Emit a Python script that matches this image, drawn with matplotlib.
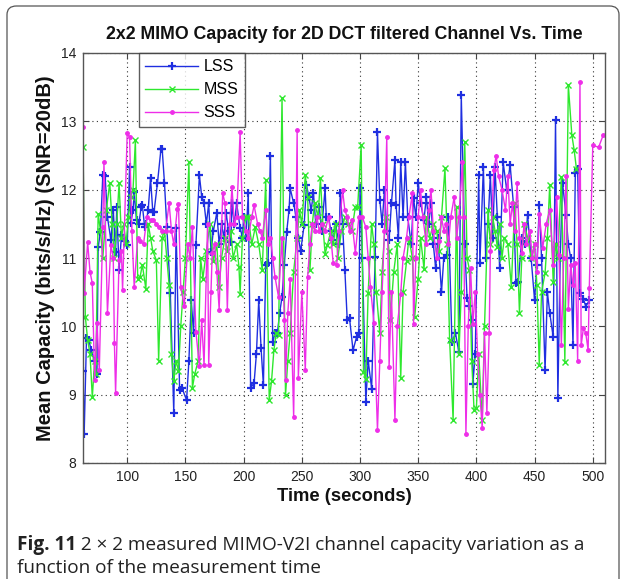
import numpy as np
import matplotlib
matplotlib.use("Agg")
import matplotlib.pyplot as plt
from matplotlib.patches import FancyBboxPatch

# ---------------- data ----------------
lss_t = [62, 63, 65, 67, 69, 72, 74, 75, 77, 79, 81, 83, 86, 88, 90, 91, 93, 95, 98, 100,
         102, 103, 105, 106, 108, 110, 112, 113, 115, 116, 118, 120, 122, 123, 126, 129, 130, 132, 134, 137,
         140, 142, 145, 147, 151, 153, 155, 157, 159, 162, 164, 166, 168, 170, 172, 174, 177, 179, 181, 183,
         185, 187, 189, 190, 192, 194, 197, 199, 200, 202, 204, 206, 209, 211, 213, 215, 217, 219, 221, 223,
         225, 227, 229, 231, 233, 235, 237, 239, 240, 243, 245, 247, 249, 252, 254, 256, 258, 260, 262, 265,
         267, 270, 271, 273, 275, 277, 279, 282, 283, 285, 287, 289, 291, 294, 297, 299, 300, 302, 305, 307,
         310, 313, 315, 317, 319, 321, 323, 325, 327, 330, 331, 333, 335, 337, 339, 341, 344, 346, 348, 350,
         352, 355, 357, 359, 361, 363, 365, 367, 370, 372, 375, 376, 379, 382, 385, 387, 390, 392, 394, 396,
         397, 399, 402, 403, 406, 408, 410, 412, 414, 416, 418, 420, 423, 426, 429, 432, 434, 436, 439, 442,
         444, 447, 450, 452, 454, 456, 459, 461, 463, 466, 468, 470, 472, 474, 477, 479, 481, 483, 485, 487,
         489, 492, 494, 497]
lss_v = [9.35, 8.42, 9.83, 9.8, 9.65, 9.5, 9.3, 11.16, 11.38, 12.21, 12.2, 11.6, 11.26, 11.7, 11.09, 11.75, 10.82, 11.33, 11.25, 11.19,
         12.33, 11.51, 11.7, 11.96, 11.55, 11.5, 11.75, 11.77, 11.45, 11.5, 11.7, 12.17, 11.67, 11.67, 12.1, 12.6, 12.6, 12.1, 11.45, 10.49,
         8.73, 11.44, 9.07, 9.1, 8.92, 9.5, 10.38, 9.9, 11.19, 12.21, 11.9, 11.8, 11.5, 11.8, 11.09, 11.4, 11.66, 11.2, 11.5, 11.3,
         11.66, 11.4, 11.23, 11.8, 11.5, 11.8, 11.44, 11.3, 11.6, 11.3, 11.95, 9.1, 9.17, 9.6, 10.38, 9.68, 9.14, 10.9, 10.92, 12.5,
         9.77, 9.9, 9.9, 10.2, 10.43, 10.9, 11.38, 11.7, 12.02, 11.8, 11.6, 11.3, 11.1, 11.48, 12.07, 11.9, 11.7, 11.95, 11.5, 11.75,
         11.4, 12.02, 11.6, 11.6, 11.4, 11.26, 11.5, 11.2, 11.95, 11.5, 10.82, 10.1, 10.12, 9.65, 9.84, 9.9, 12.02, 11.0, 8.89, 9.5,
         9.09, 11.01, 12.84, 11.85, 11.5, 12.0, 11.4, 11.26, 11.8, 12.43, 11.77, 11.3, 12.4, 11.6, 12.4, 11.6, 11.2, 11.88, 11.6, 12.1,
         11.8, 11.56, 11.9, 11.5, 11.8, 11.2, 10.85, 11.3, 10.5, 11.0, 11.04, 11.6, 9.77, 9.9, 9.62, 13.38, 11.2, 10.41, 10.3, 10.1,
         9.16, 9.6, 12.21, 10.92, 12.33, 11.0, 11.5, 12.22, 11.3, 12.33, 11.6, 10.85, 12.4, 12.0, 12.36, 11.75, 10.63, 10.65, 11.3, 11.2,
         11.63, 11.0, 10.38, 10.9, 11.77, 11.0, 9.36, 10.5, 10.2, 9.84, 13.02, 8.95, 11.0, 12.1, 11.63, 11.2, 11.0, 9.72, 12.24, 12.3,
         10.49, 10.4, 10.29, 10.38]

mss_t = [62, 64, 66, 68, 70, 72, 73, 75, 77, 79, 82, 85, 87, 89, 91, 93, 95, 97, 99, 101,
         103, 105, 107, 109, 111, 113, 116, 118, 120, 122, 125, 127, 130, 132, 134, 136, 138, 140, 142, 144,
         146, 148, 150, 153, 156, 158, 161, 163, 165, 168, 171, 174, 177, 179, 181, 184, 186, 189, 191, 194,
         196, 197, 199, 202, 204, 207, 210, 213, 216, 219, 222, 224, 226, 228, 230, 233, 236, 238, 240, 243,
         246, 248, 250, 253, 255, 257, 259, 261, 264, 266, 268, 270, 272, 275, 277, 279, 281, 284, 287, 290,
         293, 296, 298, 301, 303, 305, 307, 310, 312, 314, 317, 319, 322, 325, 326, 329, 332, 335, 337, 340,
         342, 345, 347, 350, 352, 355, 357, 360, 363, 366, 368, 370, 373, 375, 377, 380, 383, 385, 387, 390,
         392, 394, 396, 398, 400, 402, 405, 407, 410, 412, 414, 416, 418, 420, 422, 424, 427, 430, 433, 435,
         437, 439, 441, 444, 447, 450, 452, 454, 456, 459, 461, 463, 466, 468, 470, 473, 476, 479, 482, 484,
         486]
mss_v = [12.63, 10.14, 9.8, 9.6, 8.96, 9.5, 9.3, 11.65, 11.4, 11.0, 11.7, 12.1, 11.5, 11.0, 11.5, 12.1, 11.3, 11.5, 11.2, 11.6,
         11.9, 12.0, 12.72, 10.7, 10.72, 10.9, 10.55, 11.5, 11.3, 11.1, 10.97, 9.5, 11.3, 11.4, 11.0, 10.6, 9.6, 9.2, 9.5, 9.35,
         10.0, 10.5, 11.0, 12.4, 9.1, 9.3, 9.5, 11.0, 10.7, 11.1, 11.5, 10.95, 11.2, 10.57, 11.0, 11.3, 11.1, 11.4, 11.0, 11.2,
         10.87, 10.48, 11.3, 11.6, 11.6, 11.2, 11.45, 11.2, 10.82, 12.14, 8.92, 9.2, 9.65, 9.9, 9.88, 13.34, 8.99, 9.5, 9.9, 10.8,
         11.3, 11.7, 11.5, 12.21, 11.9, 10.82, 11.5, 11.8, 11.6, 12.17, 11.5, 11.06, 11.19, 11.4, 11.2, 11.5, 11.0, 11.4, 11.6, 11.5,
         11.4, 11.75, 11.75, 12.65, 9.33, 9.23, 10.49, 11.5, 11.2, 10.5, 9.9, 10.8, 11.6, 11.1, 10.1, 10.8, 11.2, 9.25, 10.5, 10.95,
         11.3, 11.0, 10.14, 10.7, 11.3, 10.84, 11.6, 11.3, 11.5, 11.4, 11.1, 11.6, 12.31, 11.2, 9.8, 8.63, 11.75, 9.6, 10.5, 12.7,
         11.0, 10.83, 9.5, 8.77, 8.8, 9.6, 8.63, 10.0, 11.7, 11.2, 11.6, 11.4, 11.16, 11.5, 11.0, 11.3, 11.2, 10.58, 11.8, 11.2,
         10.2, 11.0, 11.5, 11.3, 11.0, 11.2, 10.6, 9.43, 10.5, 10.78, 11.3, 12.07, 10.65, 11.2, 11.0, 12.19, 9.48, 13.53, 12.8, 12.58,
         12.3]

sss_t = [62, 63, 66, 68, 70, 72, 74, 76, 79, 80, 83, 86, 88, 89, 90, 93, 95, 96, 100, 102,
         104, 106, 109, 111, 114, 117, 120, 122, 125, 127, 130, 133, 136, 138, 140, 143, 144, 146, 149, 152,
         154, 156, 159, 162, 164, 166, 169, 170, 172, 173, 175, 177, 179, 182, 184, 186, 188, 190, 192, 194,
         197, 199, 202, 204, 207, 209, 212, 214, 216, 219, 221, 223, 225, 227, 230, 233, 235, 236, 238, 240,
         243, 246, 247, 250, 253, 255, 257, 259, 261, 263, 265, 267, 270, 273, 275, 277, 280, 282, 285, 287,
         289, 291, 293, 296, 299, 302, 305, 307, 309, 312, 315, 317, 319, 321, 323, 325, 327, 330, 332, 335,
         337, 340, 342, 345, 346, 348, 350, 352, 354, 357, 359, 361, 363, 366, 368, 370, 372, 374, 376, 378,
         381, 383, 385, 388, 389, 391, 393, 395, 397, 399, 401, 403, 405, 407, 409, 411, 412, 415, 417, 419,
         422, 425, 427, 429, 431, 433, 435, 437, 439, 441, 443, 446, 448, 450, 452, 454, 457, 460, 463, 466,
         469, 471, 473, 475, 477, 479, 481, 483, 485, 487, 489, 490, 492, 494, 496, 497, 500, 505, 509]
sss_v = [12.92, 10.49, 11.23, 10.8, 10.63, 9.21, 10.05, 9.36, 11.45, 12.4, 10.2, 11.19, 11.0, 9.75, 9.02, 10.97, 11.1, 10.53, 12.83, 12.77,
         11.4, 10.57, 11.3, 11.25, 11.2, 11.6, 11.55, 11.56, 11.5, 11.45, 11.4, 11.4, 11.8, 11.4, 11.2, 11.72, 11.79, 10.57, 10.3, 11.2,
         11.0, 11.45, 9.92, 9.42, 10.09, 9.43, 11.5, 9.43, 10.5, 11.07, 11.2, 10.8, 10.24, 11.95, 11.8, 10.24, 11.5, 12.04, 11.5, 11.6,
         12.84, 11.6, 11.4, 11.3, 11.6, 11.77, 11.5, 11.4, 11.3, 11.7, 11.2, 11.3, 11.0, 10.72, 10.43, 11.3, 10.1, 9.21, 10.2, 10.7,
         8.67, 12.87, 9.24, 10.5, 9.36, 10.72, 11.2, 11.5, 11.4, 11.6, 11.4, 11.5, 11.4, 11.6, 11.3, 10.92, 10.9, 11.4, 11.99, 11.7,
         11.6, 11.4, 11.55, 11.07, 11.6, 11.6, 11.45, 11.0, 10.57, 10.05, 8.48, 9.5, 10.5, 11.4, 12.77, 9.4, 10.5, 8.63, 10.0, 10.48,
         11.0, 11.3, 11.6, 11.95, 10.04, 11.0, 11.6, 12.0, 11.6, 11.2, 11.7, 12.0, 11.4, 11.0, 11.25, 11.6, 11.4, 11.5, 11.2, 11.6,
         11.9, 11.3, 11.6, 12.4, 11.6, 8.43, 10.0, 10.85, 10.04, 10.5, 9.6, 9.0, 8.51, 9.9, 8.73, 9.9, 11.1, 12.29, 12.5, 12.2,
         12.0, 11.7, 12.2, 11.5, 11.8, 11.4, 12.1, 11.3, 11.07, 11.5, 11.2, 11.4, 11.0, 11.2, 10.8, 11.65, 11.15, 11.5, 11.7, 10.9,
         11.9, 11.04, 9.72, 11.0, 12.2, 10.25, 10.9, 10.6, 10.92, 9.5, 13.58, 9.72, 9.98, 9.9, 9.65, 10.56, 12.65, 12.62, 12.8]

series_names = ["LSS", "MSS", "SSS"]
x_ticks = [100, 150, 200, 250, 300, 350, 400, 450, 500]
y_ticks = [8, 9, 10, 11, 12, 13, 14]

title = "2x2 MIMO Capacity for 2D DCT filtered Channel Vs. Time"
xlabel = "Time (seconds)"
ylabel = "Mean Capacity (bits/s/Hz) (SNR=20dB)"
cap_bold = "Fig. 11"
cap_line1 = " 2 \u00d7 2 measured MIMO-V2I channel capacity variation as a"
cap_line2 = "function of the measurement time"

# ---------------- figure ----------------
W, H = 626, 579
fig = plt.figure(figsize=(W / 100, H / 100), dpi=100)
fig.patch.set_facecolor("white")

# outer rounded frame
frame = FancyBboxPatch((7 / W, -0.05), 612 / W, (H - 6) / H + 0.05,
                       boxstyle="round,pad=0,rounding_size=0.015",
                       transform=fig.transFigure, facecolor="none",
                       edgecolor="#555555", linewidth=0.9, clip_on=False)
fig.patches.append(frame)

ax = fig.add_axes([83 / W, 1 - 463 / H, (605 - 83) / W, (463 - 53) / H])
font = "Liberation Sans"

ax.plot(lss_t, lss_v, color="#1f2fe0", marker="+", markersize=6, markeredgewidth=1.6,
        linewidth=1.0, label=series_names[0])
ax.plot(mss_t, mss_v, color="#2ee82e", marker="x", markersize=4, markeredgewidth=1.0,
        linewidth=1.0, label=series_names[1])
ax.plot(sss_t, sss_v, color="#ee2ee8", marker=".", markersize=5,
        linewidth=1.0, label=series_names[2])

ax.set_xlim(62, 510.5)
ax.set_ylim(8, 14)
ax.set_xticks(x_ticks)
ax.set_yticks(y_ticks)
ax.grid(True, color="#333333", linestyle=(0, (1, 3)), linewidth=0.8)
ax.tick_params(direction="in", length=4, width=0.8, colors="#444444",
               labelsize=10, top=True, right=True, pad=5)
for lab in ax.get_xticklabels() + ax.get_yticklabels():
    lab.set_fontfamily(font)
    lab.set_color("#222222")
for sp in ax.spines.values():
    sp.set_color("#555555")
    sp.set_linewidth(1.0)

ax.set_title(title, fontsize=12.8, fontweight="bold", fontfamily=font, pad=10, color="#111111")
ax.set_xlabel(xlabel, fontsize=13.2, fontweight="bold", fontfamily=font, labelpad=3, color="#111111")
ax.set_ylabel(ylabel, fontsize=14.5, fontweight="bold", fontfamily=font, labelpad=4, color="#111111")

leg = ax.legend(loc="upper left", bbox_to_anchor=((139 - 83) / 522, 1.0),
                prop={"family": font, "size": 11.5}, frameon=True, fancybox=False,
                edgecolor="#333333", handlelength=3.3, borderpad=0.4, labelspacing=0.5,
                handletextpad=0.35, borderaxespad=0.0)
leg.get_frame().set_linewidth(1.0)

# caption
cfont = "Open Sans"
cy1, cy2 = 1 - 545 / H, 1 - 568 / H
t1 = fig.text(17 / W, cy1, cap_bold, fontsize=13.7, fontweight="bold", fontfamily=cfont,
              va="center", ha="left", color="#222222")
fig.canvas.draw()
bb = t1.get_window_extent(renderer=fig.canvas.get_renderer())
fig.text(bb.x1 / W, cy1, cap_line1, fontsize=13.7, fontfamily=cfont,
         va="center", ha="left", color="#222222")
fig.text(17 / W, cy2, cap_line2, fontsize=13.7, fontfamily=cfont,
         va="center", ha="left", color="#222222")

fig.savefig("out.png", dpi=100)
